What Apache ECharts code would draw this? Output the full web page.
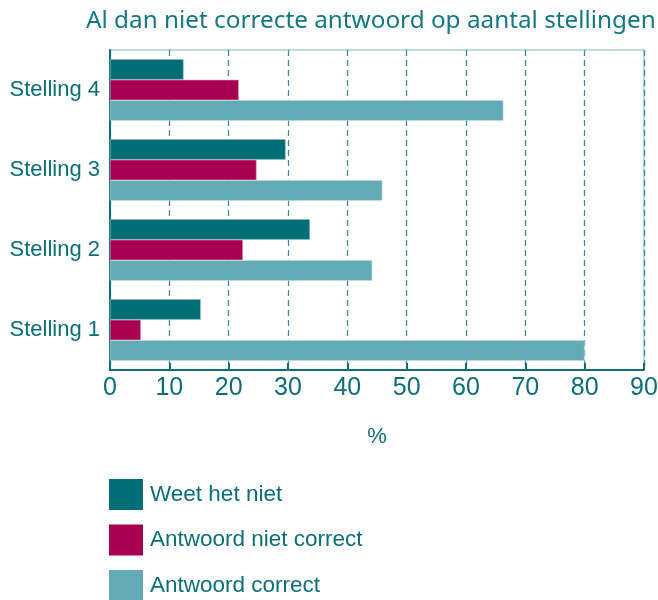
<!DOCTYPE html>
<html><head><meta charset="utf-8">
<script src="https://cdn.jsdelivr.net/npm/echarts@6/dist/echarts.min.js"></script>
<style>html,body{margin:0;padding:0;background:#fff}#c{width:658px;height:600px}</style>
</head><body><div id="c"></div>
<script>
var categories = ['Stelling 1', 'Stelling 2', 'Stelling 3', 'Stelling 4'];
var weetHetNiet = [15.3, 33.7, 29.6, 12.4];
var antwoordNietCorrect = [5.2, 22.4, 24.7, 21.7];
var antwoordCorrect = [80, 44.2, 45.9, 66.3];
var xTicks = [0, 10, 20, 30, 40, 50, 60, 70, 80, 90];

var teal = '#0b6f78';
var chart = echarts.init(document.getElementById('c'));
chart.setOption({
  animation: false,
  title: {
    text: 'Al dan niet correcte antwoord op aantal stellingen',
    left: 81, top: 4,
    textStyle: { fontFamily: 'Noto Sans', fontSize: 24.3, fontWeight: 'normal', color: '#117a80' }
  },
  grid: { left: 110, right: 14, top: 50, bottom: 230, show: true, borderColor: '#7db7bd', borderWidth: 1, outerBoundsMode: 'none', containLabel: false },
  legend: {
    orient: 'vertical', left: 104, top: 474, height: 140,
    itemWidth: 34, itemHeight: 31, itemGap: 14.5,
    data: ['Weet het niet', 'Antwoord niet correct', 'Antwoord correct'],
    icon: 'rect',
    itemStyle: { borderWidth: 0 },
    textStyle: { fontFamily: 'Liberation Sans', fontSize: 22.5, color: teal, padding: [0, 0, 0, 2] }
  },
  xAxis: {
    type: 'value', min: xTicks[0], max: xTicks[xTicks.length - 1], interval: 10,
    name: '%', nameLocation: 'middle', nameGap: 56,
    nameTextStyle: { fontFamily: 'Liberation Sans', fontSize: 22, color: teal },
    axisLine: { show: true, lineStyle: { color: teal, width: 2 } },
    axisTick: { show: true, inside: true, length: 7, lineStyle: { color: teal, width: 2 } },
    axisLabel: { fontFamily: 'Liberation Sans', fontSize: 25, color: teal, margin: 6 },
    splitLine: { show: true, lineStyle: { color: '#3a8d94', type: [6, 4], width: 1.3 } }
  },
  yAxis: {
    type: 'category', data: categories,
    axisLine: { show: true, lineStyle: { color: teal, width: 2 } },
    axisTick: { show: false },
    axisLabel: { fontFamily: 'Liberation Sans', fontSize: 22, color: teal, margin: 10, padding: [4, 0, 0, 0] }
  },
  series: [
    { name: 'Weet het niet', type: 'bar', data: weetHetNiet, barGap: '0%', barCategoryGap: '23%',
      itemStyle: { color: '#006e77', borderColor: '#8fc3c6', borderWidth: 0.6 } },
    { name: 'Antwoord niet correct', type: 'bar', data: antwoordNietCorrect, barGap: '0%', barCategoryGap: '23%',
      itemStyle: { color: '#a80051', borderColor: '#e0a0bc', borderWidth: 0.6 } },
    { name: 'Antwoord correct', type: 'bar', data: antwoordCorrect, barGap: '0%', barCategoryGap: '23%',
      itemStyle: { color: '#62aab4', borderColor: '#c5e0e3', borderWidth: 0.6 } }
  ]
});
</script></body></html>
